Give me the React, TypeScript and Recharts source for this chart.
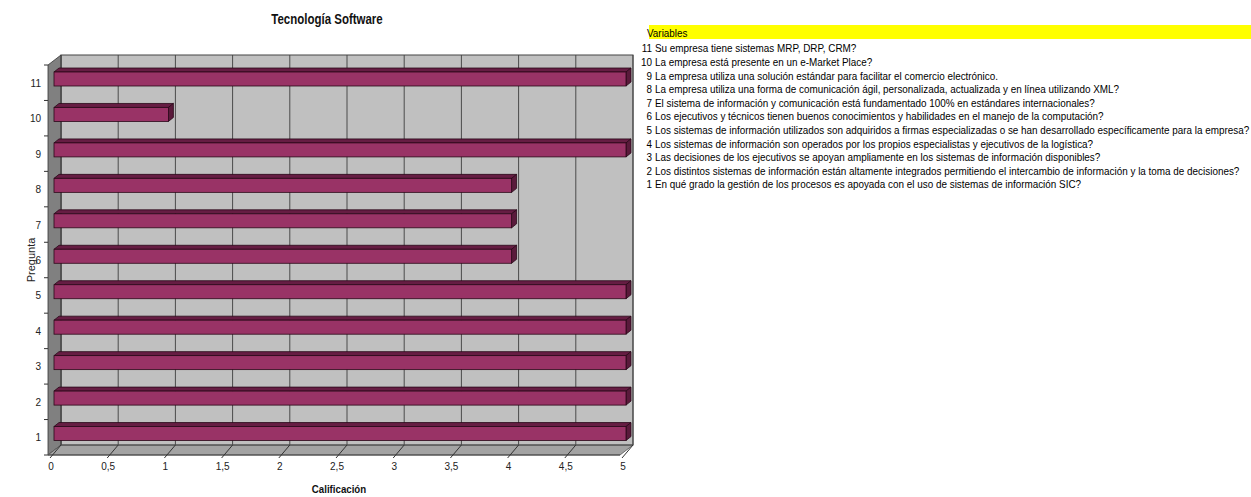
import React from 'react';
import { BarChart, Bar, XAxis, YAxis, CartesianGrid, ReferenceArea } from 'recharts';

// Questions listed top to bottom on the category axis
const questions = ['11', '10', '9', '8', '7', '6', '5', '4', '3', '2', '1'];
// Score (Calificación) for each question, same order
const scores = [5, 1, 5, 4, 4, 4, 5, 5, 5, 5, 5];
const scoreTicks = [0, 0.5, 1, 1.5, 2, 2.5, 3, 3.5, 4, 4.5, 5];

// Variables panel
const variableNumbers = [11, 10, 9, 8, 7, 6, 5, 4, 3, 2, 1];
const variableTexts = [
  'Su empresa tiene sistemas MRP, DRP, CRM?',
  'La empresa está presente en un e-Market Place?',
  'La empresa utiliza una solución estándar para facilitar el comercio electrónico.',
  'La empresa utiliza una forma de comunicación ágil, personalizada, actualizada y en línea utilizando XML?',
  'El sistema de información y comunicación está fundamentado 100% en estándares internacionales?',
  'Los ejecutivos y técnicos tienen buenos conocimientos y habilidades en el manejo de la computación?',
  'Los sistemas de información utilizados son adquiridos a firmas especializadas o se han desarrollado específicamente para la empresa?',
  'Los sistemas de información son operados por los propios especialistas y ejecutivos de la logística?',
  'Las decisiones de los ejecutivos se apoyan ampliamente en los sistemas de información disponibles?',
  'Los distintos sistemas de información están altamente integrados permitiendo el intercambio de información y la toma de decisiones?',
  'En qué grado la gestión de los procesos es apoyada con el uso de sistemas de información SIC?',
];

const data = questions.map((q, i) => ({ pregunta: q, calificacion: scores[i] }));

const SANS = "'Liberation Sans', Arial, sans-serif";
const NARROW = "'Liberation Sans Narrow', 'Liberation Sans', Arial, sans-serif";

// 3D depth of the walls (front is down-left of the back wall)
const DEPTH_X = -13;
const DEPTH_Y = 10;

const fmt = (v: number) => String(v).replace('.', ',');

// Side wall, floor, front axis ticks and titles around the plot box
const Walls = (props: any) => {
  const { x, y, width, height } = props;
  const left = x;
  const top = y;
  const right = x + width;
  const bottom = y + height;
  const n = questions.length;
  const step = height / n;
  const ticks = [];
  for (let k = 0; k <= n; k++) {
    const yy = top + k * step + DEPTH_Y;
    ticks.push(
      <line key={k} x1={left + DEPTH_X - 4} y1={yy} x2={left + DEPTH_X} y2={yy} stroke="#333" strokeWidth={1} />
    );
  }
  return (
    <g>
      {/* left wall */}
      <polygon
        points={`${left + DEPTH_X},${top + DEPTH_Y} ${left},${top} ${left},${bottom} ${left + DEPTH_X},${bottom + DEPTH_Y}`}
        fill="#808080"
        stroke="#333"
        strokeWidth={0.8}
      />
      {/* floor */}
      <polygon
        points={`${left},${bottom} ${right},${bottom} ${right + DEPTH_X},${bottom + DEPTH_Y} ${left + DEPTH_X},${bottom + DEPTH_Y}`}
        fill="#A3A3A3"
        stroke="#555"
        strokeWidth={0.8}
      />
      <line x1={left + DEPTH_X} y1={bottom + DEPTH_Y} x2={right + DEPTH_X} y2={bottom + DEPTH_Y} stroke="#444" strokeWidth={1} />
      {/* back wall border */}
      <rect x={left} y={top} width={width} height={height} fill="none" stroke="#444" strokeWidth={1} />
      {ticks}
      {/* axis titles */}
      <g transform={`translate(${(left + right) / 2 - 8},${bottom + 48}) scale(0.88,1)`}>
        <text x={0} y={0} textAnchor="middle" fontFamily={SANS} fontSize={11} fontWeight="bold" fill="#111">
          Calificación
        </text>
      </g>
      <text
        x={0}
        y={0}
        transform={`translate(${left - 26},${(top + bottom) / 2 + DEPTH_Y}) rotate(-90)`}
        textAnchor="middle"
        fontFamily={SANS}
        fontSize={11}
        fill="#222"
      >
        Pregunta
      </text>
      {/* chart title */}
      <g transform={`translate(${(left + right) / 2 - 20},${top - 31}) scale(0.82,1)`}>
        <text x={0} y={0} textAnchor="middle" fontFamily={SANS} fontSize={14} fontWeight="bold" fill="#111">
          Tecnología Software
        </text>
      </g>
    </g>
  );
};

// Horizontal 3D prism: front face, top face and right end face
const Bar3D = (props: any) => {
  const { x, y, width, height } = props;
  if (width == null || width <= 0) return null;
  const fx = x - 7;
  const fy = y + 6;
  const ox = 5;
  const oy = -4;
  const w = width;
  const h = height;
  return (
    <g>
      <polygon
        points={`${fx},${fy} ${fx + ox},${fy + oy} ${fx + w + ox},${fy + oy} ${fx + w},${fy}`}
        fill="#661D43"
        stroke="#2A0818"
        strokeWidth={0.8}
      />
      <polygon
        points={`${fx + w},${fy} ${fx + w + ox},${fy + oy} ${fx + w + ox},${fy + h + oy} ${fx + w},${fy + h}`}
        fill="#5A1A3B"
        stroke="#2A0818"
        strokeWidth={0.8}
      />
      <rect x={fx} y={fy} width={w} height={h} fill="#993366" stroke="#2A0818" strokeWidth={0.8} />
    </g>
  );
};

const XTick = (props: any) => {
  const { x, y, payload } = props;
  return (
    <g>
      <line x1={x} y1={y} x2={x - 11} y2={y + 13} stroke="#333" strokeWidth={1} />
      <text x={x - 10} y={y + 25} textAnchor="middle" fontFamily={NARROW} fontSize={10} fill="#222">
        {fmt(payload.value)}
      </text>
    </g>
  );
};

const YTick = (props: any) => {
  const { x, y, payload } = props;
  return (
    <text x={x - 20} y={y + 14} textAnchor="end" fontFamily={NARROW} fontSize={10} fill="#222">
      {payload.value}
    </text>
  );
};

const VariablesPanel = () => {
  const lineStep = 13.6;
  const sx = 0.9;
  return (
    <svg width={621} height={497} style={{ position: 'absolute', left: 630, top: 0 }}>
      <rect x={19} y={25} width={602} height={14} fill="#FFFF00" />
      <g transform={`translate(17,36.5) scale(${sx},1)`}>
        <text x={0} y={0} fontFamily={SANS} fontSize={11} fill="#000">
          Variables
        </text>
      </g>
      {variableTexts.map((t, i) => (
        <g key={i}>
          <g transform={`translate(22,${52.3 + i * lineStep}) scale(${sx},1)`}>
            <text x={0} y={0} textAnchor="end" fontFamily={SANS} fontSize={11} fill="#000">
              {variableNumbers[i]}
            </text>
          </g>
          <g transform={`translate(25,${52.3 + i * lineStep}) scale(${sx},1)`}>
            <text x={0} y={0} fontFamily={SANS} fontSize={11} fill="#000">
              {t}
            </text>
          </g>
        </g>
      ))}
    </svg>
  );
};

export default function App() {
  return (
    <div style={{ position: 'absolute', left: 0, top: 0, width: 1251, height: 497, background: '#fff', overflow: 'hidden' }}>
      <div style={{ position: 'absolute', left: 0, top: 0 }}>
        <BarChart
          width={645}
          height={497}
          data={data}
          layout="vertical"
          margin={{ top: 55, right: 12, bottom: 22, left: 0 }}
        >
          <CartesianGrid horizontal={false} vertical={true} stroke="#4a4a4a" fill="#C0C0C0" fillOpacity={1} />
          <ReferenceArea x1={0} x2={5} shape={<Walls />} ifOverflow="visible" />
          <XAxis
            type="number"
            domain={[0, 5]}
            ticks={scoreTicks}
            interval={0}
            axisLine={false}
            tickLine={false}
            tickSize={0}
            tickMargin={0}
            height={30}
            tick={<XTick />}
          />
          <YAxis
            type="category"
            dataKey="pregunta"
            width={61}
            axisLine={false}
            tickLine={false}
            tickSize={0}
            tickMargin={0}
            interval={0}
            tick={<YTick />}
          />
          <Bar dataKey="calificacion" barSize={14} fill="#993366" shape={<Bar3D />} isAnimationActive={false} />
        </BarChart>
      </div>
      <VariablesPanel />
    </div>
  );
}
